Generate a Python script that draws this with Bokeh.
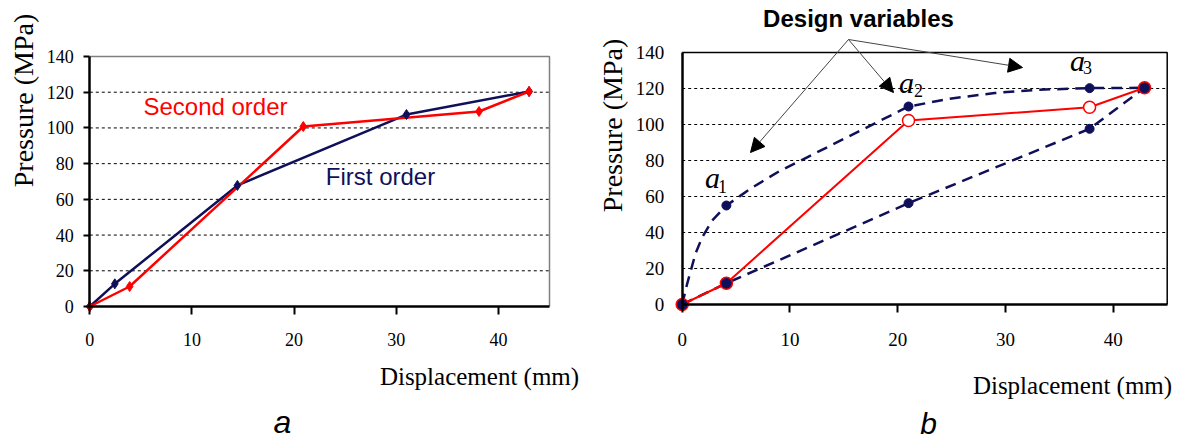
import numpy as np
from bokeh.plotting import figure
from bokeh.models import Range1d, FixedTicker, Label, Arrow, NormalHead
from bokeh.layouts import row
from bokeh.embed import file_html
from bokeh.resources import INLINE

# ---------------- data ----------------
x_ticks = [0, 10, 20, 30, 40]
y_ticks = [0, 20, 40, 60, 80, 100, 120, 140]
grid_ticks = [20, 40, 60, 80, 100, 120]
x_max, y_max = 45, 140

# panel a
first_x = [0, 2.45, 14.45, 31.0, 43.0]
first_y = [0, 12.7, 67.8, 107.5, 120.4]
second_x = [0, 3.9, 20.9, 38.1, 43.0]
second_y = [0, 11.2, 100.8, 109.2, 120.4]

# panel b
red_x = [0, 4.1, 21.0, 37.8, 42.9]
red_y = [0, 11.8, 102.2, 109.6, 120.4]
upper_x = [0, 0.46, 1.23, 1.86, 2.78, 4.1, 6.5, 9.0, 12.0, 15.0, 18.0, 21.0, 25.0, 29.0, 33.0, 37.8, 42.9]
upper_y = [0, 11.5, 28.2, 37.4, 46.7, 55.0, 65.0, 74.0, 83.0, 92.0, 101.0, 110.0, 114.5, 117.5, 119.3, 120.2, 120.4]
lower_x = [0, 4.1, 21.0, 37.8, 42.9]
lower_y = [0, 11.8, 56.3, 97.6, 120.4]
var_x = [4.1, 21.0, 37.8, 21.0, 37.8]
var_y = [55.0, 110.0, 120.2, 56.3, 97.6]
open_x = [21.0, 37.8]
open_y = [102.2, 109.6]
end_x = [0, 4.1, 42.9]
end_y = [0, 11.8, 120.4]

NAVY = "#10105a"
RED = "#ff0000"
SERIF = "Liberation Serif"
SANS = "Liberation Sans"
H = 443


def make_panel(W, fx0, fx1, fy_top, fy_bot, border_color, border_width):
    """Figure whose frame is the whole canvas; chart rectangle mapped by its ranges."""
    sx = (fx1 - fx0) / x_max
    sy = (fy_bot - fy_top) / y_max
    p = figure(width=W, height=H,
               x_range=Range1d(-fx0 / sx, (W - fx0) / sx),
               y_range=Range1d(-(H - fy_bot) / sy, fy_bot / sy),
               output_backend="svg", toolbar_location=None,
               min_border=0, min_border_left=0, min_border_right=0,
               min_border_top=0, min_border_bottom=0)
    p.background_fill_color = "white"
    p.border_fill_color = "white"
    p.outline_line_color = None
    p.xgrid.visible = False
    p.ygrid.visible = False
    # dashed horizontal grid lines inside the chart rectangle
    p.segment(x0=[0] * len(grid_ticks), x1=[x_max] * len(grid_ticks),
              y0=grid_ticks, y1=grid_ticks, line_color="black", line_width=1, line_dash="3 3")
    # chart border (top / right)
    p.line([0, x_max, x_max], [y_max, y_max, 0], line_color=border_color, line_width=border_width)
    p.xaxis.ticker = FixedTicker(ticks=x_ticks)
    p.yaxis.ticker = FixedTicker(ticks=y_ticks)
    p.xaxis.fixed_location = 0
    p.yaxis.fixed_location = 0
    p.xaxis.bounds = (0, x_max)
    p.yaxis.bounds = (0, y_max)
    for ax in (p.xaxis[0], p.yaxis[0]):
        ax.axis_line_color = "black"
        ax.axis_line_width = 2.5
        ax.major_tick_line_color = "black"
        ax.major_tick_line_width = 2
        ax.minor_tick_line_color = None
        ax.major_tick_in = 0
        ax.major_label_text_font = SERIF
        ax.major_label_text_color = "black"

    def conv(px, py):
        return ((px - fx0) / sx, (fy_bot - py) / sy)
    return p, conv


def add_label(p, conv, px, py, text, **kw):
    x, y = conv(px, py)
    p.add_layout(Label(x=x, y=y, text=text, **kw))


# ---------------- panel a ----------------
WA = 592
pa, la = make_panel(WA, 89.3, 549.0, 56.0, 306.0, "#7f7f7f", 1.5)
pa.xaxis.major_tick_out = 8
pa.yaxis.major_tick_out = 6
pa.xaxis.major_label_standoff = 18
pa.yaxis.major_label_standoff = 10
pa.xaxis.major_label_text_font_size = "18px"
pa.yaxis.major_label_text_font_size = "18px"

pa.line(first_x, first_y, line_color=NAVY, line_width=2.5)
pa.line(second_x, second_y, line_color=RED, line_width=2.5)
pa.scatter(first_x, first_y, marker="diamond", size=10, fill_color=NAVY, line_color=NAVY)
pa.scatter(second_x, second_y, marker="diamond", size=10, fill_color=RED, line_color=RED)

add_label(pa, la, 215, 106, "Second order", text_color=RED, text_font=SANS,
          text_font_size="24px", text_align="center", text_baseline="middle")
add_label(pa, la, 380, 176, "First order", text_color=NAVY, text_font=SANS,
          text_font_size="24px", text_align="center", text_baseline="middle")
add_label(pa, la, 23, 100, "Pressure (MPa)", text_color="black", text_font=SERIF,
          text_font_size="28px", text_align="center", text_baseline="middle", angle=np.pi / 2)
add_label(pa, la, 479, 376, "Displacement (mm)", text_color="black", text_font=SERIF,
          text_font_size="25px", text_align="center", text_baseline="middle")
add_label(pa, la, 282, 421, "a", text_color="black", text_font=SANS, text_font_style="italic",
          text_font_size="32px", text_align="center", text_baseline="middle")

# ---------------- panel b ----------------
WB = 1183 - WA
OX = WA  # horizontal offset of panel b in the picture
pb, lb0 = make_panel(WB, 681.7 - OX, 1166.7 - OX, 52.0, 304.0, "black", 1.5)


def lb(px, py):
    return lb0(px - OX, py)


pb.xaxis.major_tick_out = 8
pb.yaxis.major_tick_out = 0
pb.xaxis.major_label_standoff = 20
pb.yaxis.major_label_standoff = 18
pb.xaxis.major_label_text_font_size = "19px"
pb.yaxis.major_label_text_font_size = "19px"

pb.line(upper_x, upper_y, line_color=NAVY, line_width=2.5, line_dash="11 7")
pb.line(lower_x, lower_y, line_color=NAVY, line_width=2.5, line_dash="11 7")
pb.line(red_x, red_y, line_color=RED, line_width=2)
pb.scatter(var_x, var_y, marker="circle", size=9, fill_color=NAVY, line_color=NAVY)
pb.scatter(open_x, open_y, marker="circle", size=12, fill_color="white", line_color=RED, line_width=1.5)
pb.scatter(end_x, end_y, marker="circle", size=12, fill_color=NAVY, line_color=RED, line_width=1.5)

add_label(pb, lb, 612, 125, "Pressure (MPa)", text_color="black", text_font=SERIF,
          text_font_size="28px", text_align="center", text_baseline="middle", angle=np.pi / 2)
add_label(pb, lb, 1072, 385, "Displacement (mm)", text_color="black", text_font=SERIF,
          text_font_size="25px", text_align="center", text_baseline="middle")
add_label(pb, lb, 928, 423, "b", text_color="black", text_font=SANS, text_font_style="italic",
          text_font_size="30px", text_align="center", text_baseline="middle")
add_label(pb, lb, 858, 18, "Design variables", text_color="black", text_font=SANS,
          text_font_style="bold", text_font_size="24px", text_align="center", text_baseline="middle")

sub_labels = [("1", 712, 177, 722, 186), ("2", 906, 82, 918, 90), ("3", 1077, 60, 1087, 67)]
for s, axp, ayp, sxp, syp in sub_labels:
    add_label(pb, lb, axp, ayp, "a", text_color="black", text_font=SERIF, text_font_style="italic",
              text_font_size="30px", text_align="center", text_baseline="middle")
    add_label(pb, lb, sxp, syp, s, text_color="black", text_font=SERIF,
              text_font_size="18px", text_align="center", text_baseline="middle")

apex = lb(848, 39)
for tx, ty in [(750, 152), (893, 92), (1022, 67)]:
    ex, ey = lb(tx, ty)
    pb.add_layout(Arrow(end=NormalHead(size=14, fill_color="black", line_color="black"),
                        x_start=apex[0], y_start=apex[1], x_end=ex, y_end=ey,
                        line_color="#444444", line_width=1))

layout = row(pa, pb)
open("out.html", "w").write(file_html(layout, INLINE))
